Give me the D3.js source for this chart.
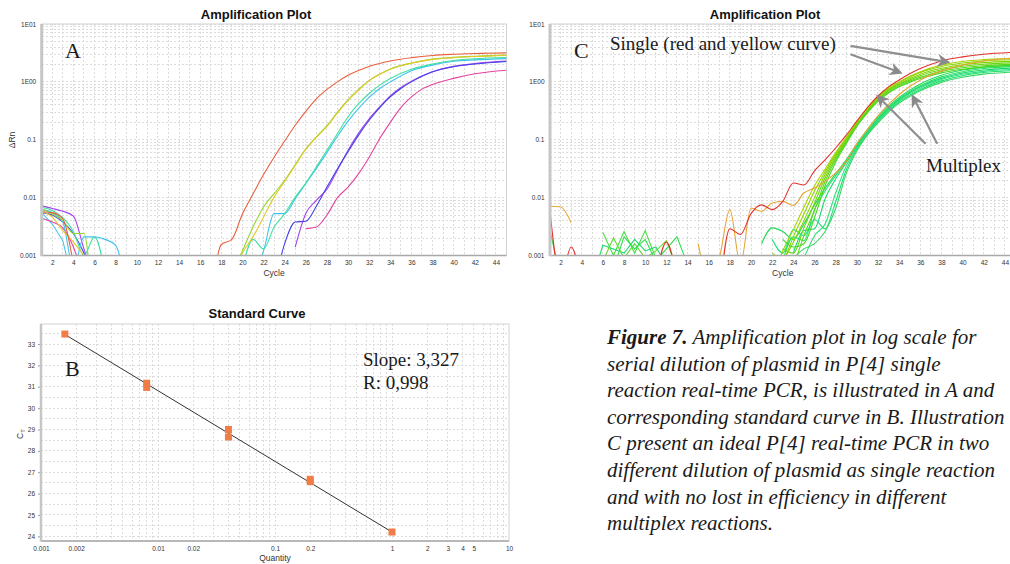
<!DOCTYPE html>
<html>
<head>
<meta charset="utf-8">
<style>
  body { margin: 0; background: #fff; }
  svg { display: block; }
  .grid line { stroke: #dcdcdc; stroke-dasharray: 2,2; shape-rendering: crispEdges; }
  .tick text { font-family: "Liberation Sans", Arial, sans-serif; fill: #333; }
  .title { font-family: "Liberation Sans", Arial, sans-serif; font-weight: bold; font-size: 13px; fill: #111; }
  .axlab { font-family: "Liberation Sans", Arial, sans-serif; font-size: 8.5px; fill: #333; }
  .serif { font-family: "Liberation Serif", "Times New Roman", serif; fill: #1a1a1a; }
</style>
</head>
<body>
<svg id="fig" width="1010" height="564"></svg>
<script src="https://d3js.org/d3.v7.min.js"></script>
<script>
// tick labels
var cycleTicks = [2, 4, 6, 8, 10, 12, 14, 16, 18, 20, 22, 24, 26, 28, 30, 32, 34, 36, 38, 40, 42, 44];
var ampYTicks = [10, 1, 0.1, 0.01, 0.001];
var ampYLabels = ['1E01', '1E00', '0.1', '0.01', '0.001'];
var stdXTicks = [0.001, 0.002, 0.01, 0.02, 0.1, 0.2, 1, 2, 3, 4, 5, 10];
var stdYTicks = [24, 25, 26, 27, 28, 29, 30, 31, 32, 33];

// panel A : [cycle, dRn], null where the value is not plotted
var aRed = [[1,.0057],[2,.0055],[3,.0043],[4,.0007],[5,null],[17,.0002],[18,.00155],[19,.0019],[20,.0052],[21,.0115],[22,.025],[23,.05],[24,.095],[25,.178],[26,.31],[27,.51],[28,.74],[29,1.0],[30,1.3],[32,1.85],[34,2.3],[36,2.62],[38,2.86],[40,3.0],[42,3.1],[45,3.17]];
var aYellow = [[1,.0058],[2,.0046],[3,.0027],[4,.0017],[5,.001],[6,.0005],[7,null],[19,.0004],[20,.0011],[21,.0021],[22,.0046],[23,.0102],[24,.019],[25,.036],[26,.068],[27,.11],[28,.17],[29,.29],[30,.48],[31,.72],[32,1.05],[33,1.35],[34,1.65],[36,2.1],[38,2.45],[40,2.62],[42,2.74],[45,2.87]];
var aLime = [[1,.0064],[2,.0052],[3,.004],[4,.0024],[5,.0024],[6,.00003],[7,null],[19,.0005],[20,.0012],[21,.0031],[22,.0069],[23,.0117],[24,.02],[25,.037],[26,.07],[27,.112],[28,.175],[29,.3],[30,.49],[31,.74],[32,1.06],[33,1.36],[34,1.67],[36,2.12],[38,2.47],[40,2.65],[42,2.77],[45,2.9]];
var aSpring = [[1,.0068],[2,.006],[3,.0045],[4,.0026],[5,.001],[6,.0021],[7,.0005],[8,null],[20,.0006],[21,.0019],[22,.0013],[23,.0031],[24,.0053],[25,.0102],[26,.0179],[27,.034],[28,.066],[29,.128],[30,.25],[31,.42],[32,.63],[33,.88],[34,1.14],[36,1.65],[38,2.04],[40,2.34],[42,2.5],[45,2.63]];
var aCyan = [[1,.0062],[2,.0055],[3,.0038],[4,.0006],[5,.0021],[6,.0021],[7,.0019],[8,.0015],[9,.0003],[10,null],[21,.0004],[22,.0012],[23,.0053],[24,.0053],[25,.0095],[26,.0175],[27,.032],[28,.06],[29,.115],[30,.21],[31,.35],[32,.54],[33,.77],[34,1.0],[36,1.56],[38,1.95],[40,2.27],[42,2.4],[45,2.52]];
var aNtc = [[1,.0055],[2,.0035],[3,.0018],[4,.0003]];
var aBlue = [[1,.0055],[2,.005],[3,.0038],[4,.0024],[5,.0011],[6,.0004],[7,null],[23,.0003],[24,.0016],[25,.0038],[26,.0039],[27,.0071],[28,.0152],[29,.0316],[30,.062],[31,.12],[32,.217],[33,.36],[34,.55],[35,.77],[36,1.0],[38,1.49],[40,1.83],[42,2.04],[45,2.25]];
var aPurple = [[1,.0072],[2,.0065],[3,.0058],[4,.0048],[5,.0013],[6,.0004],[7,null],[25,.0014],[26,.0053],[27,.009],[28,.014],[29,.03],[30,.066],[31,.13],[32,.23],[33,.37],[34,.57],[35,.8],[36,1.03],[38,1.5],[40,1.85],[42,2.07],[45,2.28]];
var aPink = [[1,.0044],[2,.0038],[3,.003],[4,.0014],[5,.0004],[6,null],[26,.0029],[27,.0031],[28,.005],[29,.01],[30,.0152],[31,.026],[32,.05],[33,.105],[34,.2],[35,.36],[36,.55],[37,.75],[38,.9],[40,1.15],[42,1.38],[45,1.59]];

// panel C : single reactions (red, yellow) and multiplex greens
var cRed = [[1,.0058],[2,.0004],[3,.0014],[4,.0003],[5,null],[11,.0004],[12,.0017],[13,.0004],[14,null],[17,.0002],[18,.0029],[19,.0023],[20,.0053],[21,.0075],[22,.0062],[23,.0086],[24,.0179],[25,.0165],[26,.029],[27,.045],[28,.072],[29,.12],[30,.21],[31,.36],[32,.57],[33,.82],[34,1.08],[35,1.38],[36,1.7],[38,2.3],[40,2.7],[42,3.0],[45,3.25]];
var cOrange = [[1,.0071],[2,.0069],[3,.0037],[4,null],[15,.0016],[16,.0004],[17,.0009],[18,.0062],[19,.0007],[20,.0066],[21,.0058],[22,.0081],[23,.0086],[24,.0073],[25,.012],[26,.0147],[27,.0191],[28,.0267],[29,.042],[30,.085],[31,.15],[32,.26],[33,.41],[34,.6],[35,.83],[36,1.08],[38,1.55],[40,1.95],[42,2.3],[45,2.6]];
var cG1a = [[22,.0004],[23,.0012],[24,.0028],[25,.0068],[26,.016],[27,.031],[28,.06],[29,.11],[30,.2],[31,.35],[32,.56],[33,.8],[34,1.0],[35,1.25],[36,1.5],[38,1.95],[40,2.25],[42,2.42],[45,2.55]];
var cG1b = [[23,.0007],[24,.0021],[25,.0052],[26,.013],[27,.028],[28,.057],[29,.105],[30,.19],[31,.33],[32,.54],[33,.76],[34,.97],[35,1.2],[36,1.45],[38,1.85],[40,2.12],[42,2.3],[45,2.42]];
var cG1c = [[22,.0011],[23,.0009],[24,.0017],[25,.004],[26,.01],[27,.025],[28,.053],[29,.1],[30,.185],[31,.32],[32,.52],[33,.73],[34,.93],[35,1.13],[36,1.36],[38,1.72],[40,1.98],[42,2.15],[45,2.28]];
var cG1d = [[23,.0013],[24,.0011],[25,.003],[26,.008],[27,.022],[28,.049],[29,.095],[30,.18],[31,.31],[32,.5],[33,.7],[34,.9],[35,1.08],[36,1.28],[38,1.62],[40,1.86],[42,2.02],[45,2.15]];
var cG1e = [[24,.0006],[25,.0022],[26,.006],[27,.019],[28,.045],[29,.09],[30,.175],[31,.3],[32,.48],[33,.67],[34,.86],[35,1.03],[36,1.2],[38,1.52],[40,1.75],[42,1.9],[45,2.02]];
var cG1f = [[23,.0019],[24,.0014],[25,.0016],[26,.0045],[27,.016],[28,.041],[29,.085],[30,.17],[31,.29],[32,.46],[33,.64],[34,.82],[35,.98],[36,1.14],[38,1.43],[40,1.65],[42,1.8],[45,1.92]];
var cG2a = [[21,.0016],[22,.003],[23,.0026],[24,.0019],[25,.0035],[26,.0075],[27,.0145],[28,.026],[29,.045],[30,.085],[31,.15],[32,.25],[33,.38],[34,.54],[35,.72],[36,.92],[38,1.3],[40,1.6],[42,1.8],[45,1.95]];
var cG2b = [[23,.0008],[24,.0021],[25,.0018],[26,.0062],[27,.013],[28,.024],[29,.042],[30,.08],[31,.14],[32,.235],[33,.36],[34,.51],[35,.68],[36,.86],[38,1.22],[40,1.5],[42,1.7],[45,1.85]];
var cG2c = [[24,.0011],[25,.0027],[26,.0029],[27,.0095],[28,.021],[29,.04],[30,.076],[31,.135],[32,.225],[33,.345],[34,.49],[35,.65],[36,.82],[38,1.15],[40,1.42],[42,1.6],[45,1.75]];
var cG2d = [[25,.0009],[26,.0022],[27,.0035],[28,.012],[29,.035],[30,.072],[31,.13],[32,.215],[33,.33],[34,.47],[35,.62],[36,.78],[38,1.1],[40,1.35],[42,1.52],[45,1.65]];
var cG2e = [[22,.0019],[23,.0011],[24,.0028],[25,.0022],[26,.0042],[27,.0029],[28,.0085],[29,.03],[30,.068],[31,.125],[32,.205],[33,.315],[34,.45],[35,.59],[36,.74],[38,1.04],[40,1.28],[42,1.45],[45,1.57]];
var cG2f = [[24,.0009],[25,.0013],[26,.0016],[27,.0026],[28,.0065],[29,.026],[30,.064],[31,.12],[32,.195],[33,.3],[34,.43],[35,.56],[36,.7],[38,.98],[40,1.2],[42,1.36],[45,1.48]];
var cN1 = [[1,.0027],[2,.0004]];
var cN2 = [[6,.0025],[7,.001],[8,.0026],[9,.0011],[10,.0027],[11,.0009]];
var cN3 = [[5,.0004],[6,.0015],[7,.0013],[8,.0011],[9,.0019],[10,.0012],[11,.0014],[12,.0007]];
var cN4 = [[6,.0008],[7,.002],[8,.0009],[9,.0016],[10,.0009],[11,.0012],[12,.0018],[13,.0006]];
var cN5 = [[7,.0006],[8,.0021],[9,.0013],[10,.0019],[11,.0008],[12,.0013],[13,.0021],[14,.0007]];

// panel B : standard curve
var stdQty = [0.0016, 0.008, 0.008, 0.04, 0.04, 0.2, 0.2, 1];
var stdCt = [33.47, 31.17, 30.97, 29.0, 28.65, 26.67, 26.56, 24.2];
var fitQty = [0.0016, 1];
var fitCt = [33.45, 24.2];

var captionLead = 'Figure 7.';
var captionLines = [
  ' Amplification plot in log scale for',
  'serial dilution of plasmid in P[4] single',
  'reaction real-time PCR, is illustrated in A and',
  'corresponding standard curve in B. Illustration',
  'C present an ideal P[4] real-time PCR in two',
  'different dilution of plasmid as single reaction',
  'and with no lost in efficiency in different',
  'multiplex reactions.'
];

// lin: straight segments (pure noise traces)
var seriesA = [
  { v: aNtc, c: '#4cc6ee', lin: true }, { v: aPink, c: '#e2449e' }, { v: aPurple, c: '#a443ee' },
  { v: aBlue, c: '#4444e6' }, { v: aCyan, c: '#3fc2ee' }, { v: aSpring, c: '#3fe0a0' },
  { v: aLime, c: '#94d62a' }, { v: aYellow, c: '#e2c82c' }, { v: aRed, c: '#e8603e' }
];
var seriesC = [
  { v: cN1, c: '#36dc5a', lin: true }, { v: cN2, c: '#48e040', lin: true }, { v: cN3, c: '#22d872', lin: true },
  { v: cN4, c: '#5cdc30', lin: true }, { v: cN5, c: '#2ce052', lin: true },
  { v: cG2a, c: '#22d856' }, { v: cG2b, c: '#2ae066' }, { v: cG2c, c: '#14d86c' },
  { v: cG2d, c: '#32e07a' }, { v: cG2e, c: '#1ce074' }, { v: cG2f, c: '#38d862' },
  { v: cG1a, c: '#a6d400' }, { v: cG1b, c: '#92d400' }, { v: cG1c, c: '#7ed600' },
  { v: cG1d, c: '#6ad410' }, { v: cG1e, c: '#58d818' }, { v: cG1f, c: '#48d824' },
  { v: cOrange, c: '#e8a434' }, { v: cRed, c: '#e2332e' }
];

var svg = d3.select('#fig');

svg.append('defs').append('marker')
  .attr('id', 'head')
  .attr('viewBox', '0 0 10 10')
  .attr('refX', 8).attr('refY', 5)
  .attr('markerUnits', 'userSpaceOnUse')
  .attr('markerWidth', 13).attr('markerHeight', 13)
  .attr('orient', 'auto')
  .append('path').attr('d', 'M0,0 L10,5 L0,10 L3,5 z').attr('fill', '#8a8a8a');

function ampPanel(name, left, right, series) {
  var top = 24, bottom = 255.5;
  var x = d3.scaleLinear().domain([1, 45]).range([left, right]);
  var y = d3.scaleLog().domain([0.001, 10]).range([bottom, top]);
  var g = svg.append('g');

  var minors = [];
  [0.001, 0.01, 0.1, 1].forEach(function (dec) {
    for (var k = 2; k < 10; k++) minors.push(dec * k);
  });

  g.append('g').attr('class', 'grid')
    .selectAll('line').data(d3.range(1, 46)).join('line')
    .attr('x1', d => x(d)).attr('x2', d => x(d))
    .attr('y1', top).attr('y2', bottom);
  g.append('g').attr('class', 'grid')
    .selectAll('line').data(ampYTicks.concat(minors)).join('line')
    .attr('x1', left).attr('x2', right)
    .attr('y1', d => y(d)).attr('y2', d => y(d));

  g.append('rect')
    .attr('x', left).attr('y', top)
    .attr('width', right - left).attr('height', bottom - top)
    .attr('fill', 'none').attr('stroke', '#d2d2d2');

  svg.select('defs').append('clipPath').attr('id', 'clip' + name)
    .append('rect').attr('x', left).attr('y', top)
    .attr('width', right - left).attr('height', bottom - top);

  var smooth = d3.line()
    .defined(d => d[1] != null)
    .x(d => x(d[0]))
    .y(d => y(d[1]))
    .curve(d3.curveMonotoneX);
  var straight = d3.line()
    .defined(d => d[1] != null)
    .x(d => x(d[0]))
    .y(d => y(d[1]));

  g.append('g').attr('clip-path', 'url(#clip' + name + ')')
    .selectAll('path').data(series).join('path')
    .attr('d', d => (d.lin ? straight : smooth)(d.v))
    .attr('fill', 'none')
    .attr('stroke', d => d.c)
    .attr('stroke-width', 1.1);

  // axes
  var yAxis = g.append('g').attr('transform', 'translate(' + left + ',0)')
    .call(d3.axisLeft(y).tickValues(ampYTicks).tickFormat((d, i) => ampYLabels[i]).tickSize(0).tickPadding(5.5));
  var xAxis = g.append('g').attr('transform', 'translate(0,' + bottom + ')')
    .call(d3.axisBottom(x).tickValues(cycleTicks).tickFormat(d3.format('d')).tickSize(0).tickPadding(4.4));
  [yAxis, xAxis].forEach(function (a) {
    a.select('.domain').remove();
    a.selectAll('text').style('font-size', '6.5px');
  });
  g.append('line').attr('x1', left).attr('x2', right).attr('y1', bottom).attr('y2', bottom)
    .attr('stroke', '#a9a9a9').attr('stroke-width', 1.5);
  g.append('line').attr('x1', left).attr('x2', left).attr('y1', top).attr('y2', bottom + 0.7)
    .attr('stroke', '#c6c6c6').attr('stroke-width', 3);

  g.append('text').attr('class', 'axlab').attr('text-anchor', 'middle')
    .attr('x', (left + right) / 2).attr('y', 276).text('Cycle');

  return { x: x, y: y, g: g };
}

// ----- A -----
var pa = ampPanel('A', 41.7, 506.5, seriesA);
svg.append('text').attr('class', 'title').attr('text-anchor', 'middle').attr('x', 256).attr('y', 19).text('Amplification Plot');
svg.append('text').attr('class', 'axlab').attr('text-anchor', 'middle')
  .attr('transform', 'translate(15,140) rotate(-90)').text('ΔRn');
svg.append('text').attr('class', 'serif').attr('x', 65).attr('y', 58).style('font-size', '22px').text('A');

// ----- C -----
var pc = ampPanel('C', 550, 1015.5, seriesC);
svg.append('text').attr('class', 'title').attr('text-anchor', 'middle').attr('x', 765).attr('y', 19).text('Amplification Plot');
svg.append('text').attr('class', 'serif').attr('x', 574).attr('y', 58).style('font-size', '22px').text('C');
svg.append('text').attr('class', 'serif').attr('x', 610).attr('y', 50).style('font-size', '19px').text('Single (red and yellow curve)');
svg.append('text').attr('class', 'serif').attr('x', 926).attr('y', 172).style('font-size', '19px').text('Multiplex');

// arrows, given in cycle / dRn of panel C
var arrows = [
  [29.4, 4.2, 38.6, 2.2],
  [29.4, 3.0, 34.1, 1.45],
  [36.5, 0.085, 32.0, 0.56],
  [37.6, 0.085, 35.3, 0.56]
];
svg.append('g').selectAll('line').data(arrows).join('line')
  .attr('x1', d => pc.x(d[0])).attr('y1', d => pc.y(d[1]))
  .attr('x2', d => pc.x(d[2])).attr('y2', d => pc.y(d[3]))
  .attr('stroke', '#8f8f8f').attr('stroke-width', 2.2)
  .attr('marker-end', 'url(#head)');

// ----- B -----
(function () {
  var left = 41, right = 509, top = 324, bottom = 541;
  var x = d3.scaleLog().domain([0.001, 10]).range([left, right]);
  var y = d3.scaleLinear().domain([23.78, 33.94]).range([bottom, top]);
  var g = svg.append('g');

  var vlines = [];
  [0.001, 0.01, 0.1, 1].forEach(function (dec) {
    for (var k = 1; k < 10; k++) vlines.push(dec * k);
  });
  g.append('g').attr('class', 'grid')
    .selectAll('line').data(vlines).join('line')
    .attr('x1', d => x(d)).attr('x2', d => x(d)).attr('y1', top).attr('y2', bottom);
  g.append('g').attr('class', 'grid')
    .selectAll('line').data(d3.range(24, 34, 0.5)).join('line')
    .attr('x1', left).attr('x2', right).attr('y1', d => y(d)).attr('y2', d => y(d));

  g.append('rect').attr('x', left).attr('y', top).attr('width', right - left).attr('height', bottom - top)
    .attr('fill', 'none').attr('stroke', '#d2d2d2');

  var yAxis = g.append('g').attr('transform', 'translate(' + left + ',0)')
    .call(d3.axisLeft(y).tickValues(stdYTicks).tickSize(3).tickPadding(3));
  var xAxis = g.append('g').attr('transform', 'translate(0,' + bottom + ')')
    .call(d3.axisBottom(x).tickValues(stdXTicks).tickFormat(d => String(d)).tickSize(0).tickPadding(5));
  [yAxis, xAxis].forEach(function (a) {
    a.select('.domain').remove();
    a.selectAll('line').attr('stroke', '#999');
    a.selectAll('text').style('font-size', '6.5px');
  });
  g.append('line').attr('x1', left).attr('x2', right).attr('y1', bottom).attr('y2', bottom)
    .attr('stroke', '#a9a9a9').attr('stroke-width', 1.5);
  g.append('line').attr('x1', left).attr('x2', left).attr('y1', top).attr('y2', bottom + 0.7)
    .attr('stroke', '#c6c6c6').attr('stroke-width', 2.5);

  var fit = d3.line().x(d => x(d[0])).y(d => y(d[1]));
  g.append('path').attr('d', fit(d3.zip(fitQty, fitCt)))
    .attr('fill', 'none').attr('stroke', '#333').attr('stroke-width', 1);

  g.selectAll('rect.pt').data(d3.zip(stdQty, stdCt)).join('rect')
    .attr('class', 'pt')
    .attr('x', d => x(d[0]) - 3.5).attr('y', d => y(d[1]) - 3.5)
    .attr('width', 7).attr('height', 7)
    .attr('fill', '#f07c48');

  svg.append('text').attr('class', 'title').attr('text-anchor', 'middle').attr('x', 257).attr('y', 318).text('Standard Curve');
  svg.append('text').attr('class', 'axlab').attr('text-anchor', 'middle')
    .attr('x', (left + right) / 2).attr('y', 561).text('Quantity');
  var ct = svg.append('text').attr('class', 'axlab').attr('text-anchor', 'middle')
    .attr('transform', 'translate(23,434) rotate(-90)');
  ct.append('tspan').text('C');
  ct.append('tspan').attr('font-size', '6px').attr('dy', 1.5).text('T');

  svg.append('text').attr('class', 'serif').attr('x', 65).attr('y', 376).style('font-size', '22px').text('B');
  svg.append('text').attr('class', 'serif').attr('x', 363).attr('y', 366).style('font-size', '19px').text('Slope: 3,327');
  svg.append('text').attr('class', 'serif').attr('x', 363).attr('y', 389).style('font-size', '19px').text('R: 0,998');
})();

// ----- caption -----
var cap = svg.append('g').attr('class', 'serif').style('font-size', '21px').style('font-style', 'italic');
cap.selectAll('text').data(captionLines).join('text')
  .attr('x', 607)
  .attr('y', (d, i) => 344 + i * 26.6)
  .each(function (d, i) {
    var t = d3.select(this);
    if (i === 0) t.append('tspan').attr('font-weight', 'bold').text(captionLead);
    t.append('tspan').text(d);
  });
</script>
</body>
</html>
